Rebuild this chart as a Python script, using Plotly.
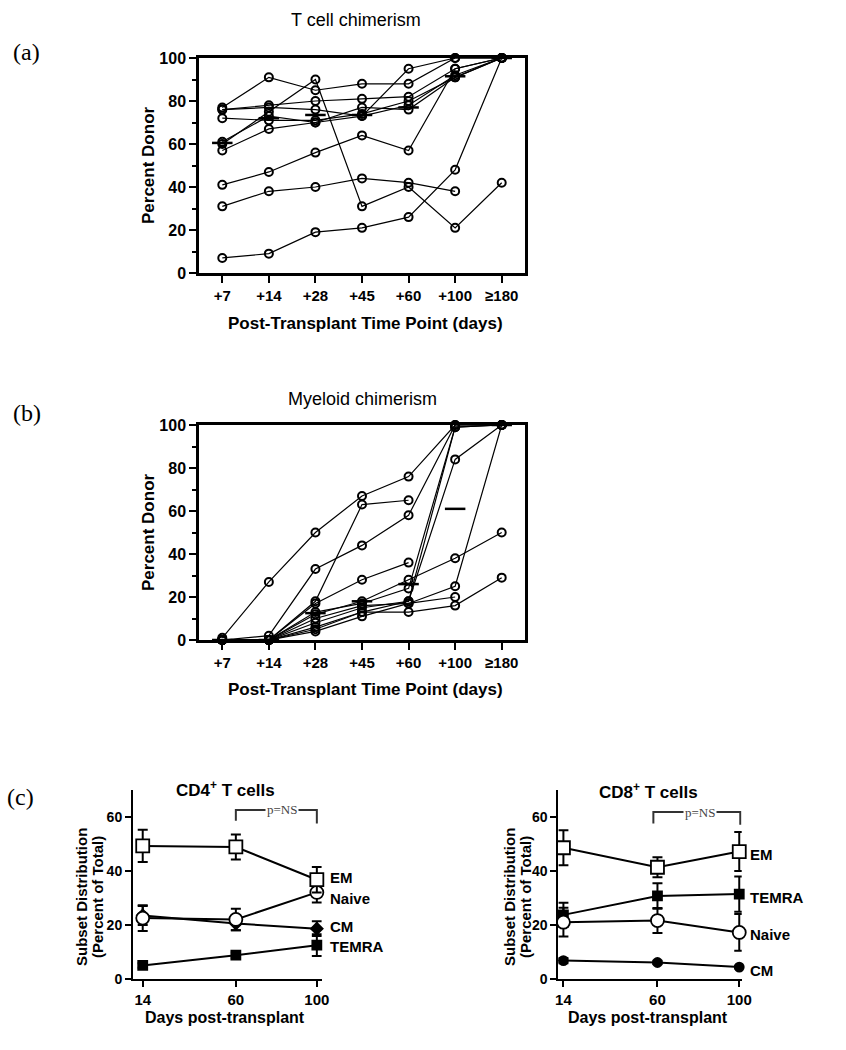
import plotly.graph_objects as go

# ---------------- data ----------------
time_labels = ["+7", "+14", "+28", "+45", "+60", "+100", "≥180"]

tcell_subjects = [
    [77, 91, 85, 88, 88, 100, 100],
    [60, 75, 90, 31, 40, 21, 42],
    [76, 78, 80, 81, 82, 95, 100],
    [76, 77, 76, 73, 95, 100, 100],
    [72, 71, 71, 74, 80, 91, 100],
    [61, 73, 70, 73, 78, 92, 100],
    [57, 67, 70, 77, 76, 91, 100],
    [41, 47, 56, 64, 57, 95, 100],
    [31, 38, 40, 44, 42, 38, None],
    [7, 9, 19, 21, 26, 48, 100],
]
tcell_median = [60.5, 72, 73.5, 73.5, 77, 91.5, 100]

myeloid_subjects = [
    [1, 27, 50, 67, 76, 100, 100],
    [0, 2, 33, 44, 58, 100, 100],
    [0, 0, 18, 63, 65, None, None],
    [0, 0, 17, 28, 36, None, None],
    [0, 0, 12, 18, 28, 38, 50],
    [0, 0, 13, 17, 24, 99, 100],
    [0, 0, 8, 15, 18, 99, 100],
    [0, 0, 6, 13, 18, 84, 100],
    [0, 0, 10, 16, 17, 25, 100],
    [0, 0, 4, 11, 17, 20, None],
    [0, 0, 5, 13, 13, 16, 29],
]
myeloid_median = [0, 0, 12.5, 18, 26, 61, 100]

days = [14, 60, 100]
subset_names = ["EM", "Naive", "CM", "TEMRA"]

cd4_em = [49.2, 48.8, 36.7]
cd4_em_err = [6.0, 4.6, 4.7]
cd4_naive = [22.5, 22.0, 32.0]
cd4_naive_err = [4.8, 4.0, 3.7]
cd4_cm = [23.5, 20.5, 18.6]
cd4_cm_err = [3.5, 2.5, 2.7]
cd4_temra = [5.0, 8.8, 12.5]
cd4_temra_err = [0.8, 1.0, 4.0]

cd8_em = [48.5, 41.3, 47.1]
cd8_em_err = [6.5, 3.7, 7.2]
cd8_temra = [23.7, 30.7, 31.4]
cd8_temra_err = [4.5, 4.7, 6.5]
cd8_naive = [21.0, 21.6, 17.2]
cd8_naive_err = [5.3, 4.6, 6.8]
cd8_cm = [6.8, 6.1, 4.4]
cd8_cm_err = [1.0, 0.6, 0.5]

# ---------------- styling helpers ----------------
W, H = 846, 1050
ARIAL = "Liberation Sans, Arial, Helvetica, sans-serif"
SERIF = "Liberation Serif, Times New Roman, serif"


def px(x):
    return x / W


def py(y):
    return 1 - y / H


fig = go.Figure()
xidx = list(range(len(time_labels)))

# ---------------- panel (a) and (b) ----------------
for subjects, medians, xa, ya in [
    (tcell_subjects, tcell_median, "x", "y"),
    (myeloid_subjects, myeloid_median, "x2", "y2"),
]:
    for s in subjects:
        fig.add_trace(go.Scatter(
            x=xidx, y=s, xaxis=xa, yaxis=ya, mode="lines+markers",
            line=dict(color="black", width=1.2),
            marker=dict(symbol="circle-open", size=8, color="black",
                        line=dict(width=2, color="black")),
            cliponaxis=False, showlegend=False, connectgaps=False))
    for i, m in enumerate(medians):
        fig.add_trace(go.Scatter(
            x=[i - 0.22, i + 0.22], y=[m, m], xaxis=xa, yaxis=ya,
            mode="lines", line=dict(color="black", width=2.5),
            cliponaxis=False, showlegend=False))

chim_x = dict(
    range=[-0.5, 6.5], tickmode="array", tickvals=xidx, ticktext=time_labels,
    tickangle=0,
    showline=True, linecolor="black", linewidth=2.5, mirror=True,
    ticks="outside", ticklen=7, tickwidth=2, tickcolor="black",
    tickfont=dict(family=ARIAL, size=15, color="black", weight="bold"),
    showgrid=False, zeroline=False)
chim_y = dict(
    range=[0, 100], tickvals=[0, 20, 40, 60, 80, 100],
    showline=True, linecolor="black", linewidth=2.5, mirror=True,
    ticks="outside", ticklen=7, tickwidth=2, tickcolor="black",
    minor=dict(ticks="outside", ticklen=4, dtick=10, tickwidth=2, tickcolor="black"),
    tickfont=dict(family=ARIAL, size=16, color="black", weight="bold"),
    showgrid=False, zeroline=False)

xa_dom = [px(199), px(525)]
fig.update_layout(
    xaxis=dict(domain=xa_dom, anchor="y", **chim_x),
    yaxis=dict(domain=[py(273), py(58)], anchor="x", **chim_y),
    xaxis2=dict(domain=xa_dom, anchor="y2", **chim_x),
    yaxis2=dict(domain=[py(640), py(425)], anchor="x2", **chim_y),
)

# ---------------- panel (c) ----------------
def subset_trace(xa, ya, vals, errs, symbol, size, fill):
    return go.Scatter(
        x=days, y=vals, xaxis=xa, yaxis=ya, mode="lines+markers",
        line=dict(color="black", width=2),
        marker=dict(symbol=symbol, size=size, color=fill,
                    line=dict(width=1.8, color="black")),
        error_y=dict(type="data", array=errs, visible=True, color="black",
                     thickness=2, width=5),
        cliponaxis=False, showlegend=False)

cd4_series = [
    (cd4_temra, cd4_temra_err, "square", 9, "black"),
    (cd4_cm, cd4_cm_err, "diamond", 9, "black"),
    (cd4_naive, cd4_naive_err, "circle", 13, "white"),
    (cd4_em, cd4_em_err, "square", 13, "white"),
]
for vals, errs, sym, sz, fill in cd4_series:
    fig.add_trace(subset_trace("x3", "y3", vals, errs, sym, sz, fill))

cd8_series = [
    (cd8_cm, cd8_cm_err, "circle", 9, "black"),
    (cd8_temra, cd8_temra_err, "square", 9, "black"),
    (cd8_naive, cd8_naive_err, "circle", 13, "white"),
    (cd8_em, cd8_em_err, "square", 13, "white"),
]
for vals, errs, sym, sz, fill in cd8_series:
    fig.add_trace(subset_trace("x4", "y4", vals, errs, sym, sz, fill))

sub_x = dict(
    tickvals=days, tickangle=0, showline=True, linecolor="black", linewidth=2,
    ticks="outside", ticklen=6, tickwidth=2, tickcolor="black",
    tickfont=dict(family=ARIAL, size=15, color="black", weight="bold"),
    showgrid=False, zeroline=False)
sub_y = dict(
    range=[0, 70], tickvals=[0, 20, 40, 60],
    showline=True, linecolor="black", linewidth=2,
    ticks="outside", ticklen=6, tickwidth=2, tickcolor="black",
    tickfont=dict(family=ARIAL, size=14, color="black", weight="bold"),
    showgrid=False, zeroline=False)
fig.update_layout(
    xaxis3=dict(domain=[px(133), px(321.7)], range=[9.2, 102.4], anchor="y3", **sub_x),
    yaxis3=dict(domain=[py(979), py(789.6)], anchor="x3", **sub_y),
    xaxis4=dict(domain=[px(558.3), px(741.7)], range=[11.5, 101.2], anchor="y4", **sub_x),
    yaxis4=dict(domain=[py(979), py(789.6)], anchor="x4", **sub_y),
)

# p=NS brackets
shapes = [
    dict(type="path", path="M 60,58.5 L 60,62.5 L 100,62.5 L 100,57.5",
         xref="x3", yref="y3", line=dict(color="#333", width=2)),
    dict(type="path", path="M 58,57.5 L 58,61.7 L 100.5,61.7 L 100.5,57",
         xref="x4", yref="y4", line=dict(color="#333", width=2)),
]
fig.update_layout(shapes=shapes)

ann = []


def A(text, x, y, size, family=ARIAL, weight="normal", angle=0, xanchor="center",
      color="black", xref="paper", yref="paper", bg=None):
    d = dict(text=text, x=x, y=y, xref=xref, yref=yref, showarrow=False,
             font=dict(family=family, size=size, color=color, weight=weight),
             textangle=angle, xanchor=xanchor, yanchor="middle")
    if bg:
        d["bgcolor"] = bg
        d["borderpad"] = 1
    ann.append(d)


# panel labels
A("(a)", px(27), py(52), 24, family=SERIF)
A("(b)", px(27), py(413), 24, family=SERIF)
A("(c)", px(20), py(797), 24, family=SERIF)

# chimerism titles
A("T cell chimerism", px(356), py(20), 18)
A("Myeloid chimerism", px(362), py(399), 18)
A("Percent Donor", px(148), py(165), 17, weight="bold", angle=-90)
A("Percent Donor", px(148), py(532), 17, weight="bold", angle=-90)
A("Post-Transplant Time Point (days)", px(365), py(323), 17, weight="bold")
A("Post-Transplant Time Point (days)", px(365), py(689), 17, weight="bold")

# subset titles
A("CD4<sup>+</sup> T cells", px(225), py(789), 17, weight="bold")
A("CD8<sup>+</sup> T cells", px(648), py(791), 17, weight="bold")
A("Subset Distribution", px(81), py(897), 15, weight="bold", angle=-90)
A("(Percent of Total)", px(97), py(897), 15, weight="bold", angle=-90)
A("Subset Distribution", px(509), py(897), 15, weight="bold", angle=-90)
A("(Percent of Total)", px(525), py(897), 15, weight="bold", angle=-90)
A("Days post-transplant", px(225), py(1017), 16, weight="bold")
A("Days post-transplant", px(648), py(1017), 16, weight="bold")

# series labels
cd4_label_y = {"EM": 877, "Naive": 898, "CM": 926, "TEMRA": 946}
for n in subset_names:
    A(n, px(328), py(cd4_label_y[n]), 15, weight="bold", xanchor="left")
cd8_label_y = {"EM": 854, "TEMRA": 897, "Naive": 934, "CM": 970}
for n in subset_names:
    A(n, px(748), py(cd8_label_y[n]), 15, weight="bold", xanchor="left")

# p=NS
A("p=NS", 83, 62.5, 13, family=SERIF, color="#444", xref="x3", yref="y3", bg="white")
A("p=NS", 81, 61.7, 13, family=SERIF, color="#444", xref="x4", yref="y4", bg="white")

fig.update_layout(
    annotations=ann,
    width=W, height=H,
    margin=dict(l=0, r=0, t=0, b=0, autoexpand=False),
    paper_bgcolor="white", plot_bgcolor="white",
    showlegend=False,
)

fig.write_html(
    "out.html",
    config={"displayModeBar": False},
    post_script="document.body.style.margin='0';document.body.style.overflow='hidden';",
)
